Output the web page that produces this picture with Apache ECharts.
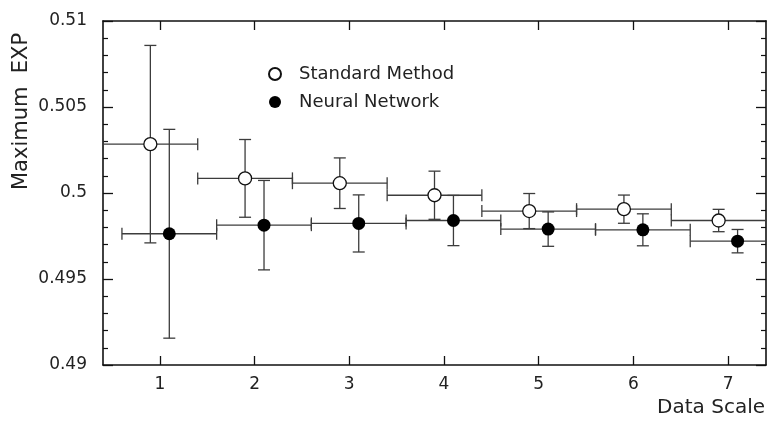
<!DOCTYPE html>
<html>
<head>
<meta charset="utf-8">
<script src="https://cdn.jsdelivr.net/npm/echarts@6/dist/echarts.min.js"></script>
<style>
  html, body { margin: 0; padding: 0; background: #fff; }
  #chart { width: 769px; height: 426px; }
</style>
</head>
<body>
<div id="chart"></div>
<script>
// Data scale points (each method is shifted slightly left/right of the integer scale)
const stdX = [0.9, 1.9, 2.9, 3.9, 4.9, 5.9, 6.9];
const stdY = [0.50284, 0.50085, 0.50057, 0.49987, 0.49895, 0.49906, 0.49840];
const stdErr = [0.00574, 0.00226, 0.00147, 0.00140, 0.00102, 0.00082, 0.00065];

const nnX = [1.1, 2.1, 3.1, 4.1, 5.1, 6.1, 7.1];
const nnY = [0.49763, 0.49813, 0.49823, 0.49840, 0.49790, 0.49786, 0.49720];
const nnErr = [0.00607, 0.00260, 0.00166, 0.00146, 0.00100, 0.00093, 0.00068];

// Half-width of each data-scale bin (horizontal error bars)
const binHalf = [0.5, 0.5, 0.5, 0.5, 0.5, 0.5, 0.5];

const xTicks = [1, 2, 3, 4, 5, 6, 7];

const FONT = '"DejaVu Sans", sans-serif';
const TEXT = '#222';
const LINE = '#3c3c3c';
const CAP = 6;

function rows(xs, ys, es) {
  return xs.map((x, i) => [x, ys[i], es[i], binHalf[i]]);
}

function renderBars(params, api) {
  const x = api.value(0), y = api.value(1), ey = api.value(2), ex = api.value(3);
  const top = api.coord([x, y + ey]);
  const bot = api.coord([x, y - ey]);
  const lft = api.coord([x - ex, y]);
  const rgt = api.coord([x + ex, y]);
  const style = { stroke: LINE, lineWidth: 1.3, fill: null };
  const seg = (x1, y1, x2, y2) => ({ type: 'line', shape: { x1, y1, x2, y2 }, style });
  return {
    type: 'group',
    children: [
      seg(top[0], top[1], bot[0], bot[1]),
      seg(top[0] - CAP, top[1], top[0] + CAP, top[1]),
      seg(bot[0] - CAP, bot[1], bot[0] + CAP, bot[1]),
      seg(lft[0], lft[1], rgt[0], rgt[1]),
      seg(lft[0], lft[1] - CAP, lft[0], lft[1] + CAP),
      seg(rgt[0], rgt[1] - CAP, rgt[0], rgt[1] + CAP)
    ]
  };
}

const chart = echarts.init(document.getElementById('chart'), null, { renderer: 'canvas' });

const frameLine = { show: true, lineStyle: { color: '#111', width: 1.6 } };
const tickStyle = { color: '#111', width: 1.3 };

chart.setOption({
  animation: false,
  backgroundColor: '#fff',
  grid: { left: 103, right: 3, top: 21, bottom: 61, containLabel: false },
  legend: {
    orient: 'vertical',
    left: 263,
    top: 60,
    itemWidth: 12,
    itemHeight: 12,
    itemGap: 10,
    data: ['Standard Method', 'Neural Network'],
    textStyle: { fontFamily: FONT, fontSize: 18, color: TEXT, padding: [0, 0, 0, 13] }
  },
  xAxis: [
    {
      type: 'value', position: 'bottom', min: 0.4, max: 7.4,
      axisLine: frameLine,
      axisTick: { show: true, inside: true, length: 9, customValues: xTicks, lineStyle: tickStyle },
      axisLabel: { show: true, customValues: xTicks, margin: 11, fontFamily: FONT, fontSize: 17, color: TEXT },
      splitLine: { show: false }
    },
    {
      type: 'value', position: 'top', min: 0.4, max: 7.4,
      axisLine: frameLine,
      axisTick: { show: true, inside: true, length: 9, customValues: xTicks, lineStyle: tickStyle },
      axisLabel: { show: false },
      splitLine: { show: false }
    }
  ],
  yAxis: [
    {
      type: 'value', position: 'left', min: 0.49, max: 0.51, interval: 0.005,
      axisLine: frameLine,
      axisTick: { show: true, inside: true, length: 10, lineStyle: tickStyle },
      minorTick: { show: true, splitNumber: 5, length: 5, lineStyle: { color: '#111', width: 1.2 } },
      axisLabel: { margin: 16, fontFamily: FONT, fontSize: 17, color: TEXT },
      splitLine: { show: false }
    },
    {
      type: 'value', position: 'right', min: 0.49, max: 0.51, interval: 0.005,
      axisLine: frameLine,
      axisTick: { show: true, inside: true, length: 10, lineStyle: tickStyle },
      minorTick: { show: true, splitNumber: 5, length: 5, lineStyle: { color: '#111', width: 1.2 } },
      axisLabel: { show: false },
      splitLine: { show: false }
    }
  ],
  graphic: [
    {
      type: 'text', right: 4, top: 398,
      style: { text: 'Data Scale', fontFamily: FONT, fontSize: 20, fill: TEXT }
    },
    {
      type: 'text', x: 11, y: 190, rotation: Math.PI / 2,
      style: { text: 'Maximum  EXP', fontFamily: FONT, fontSize: 21, fill: TEXT }
    }
  ],
  series: [
    {
      name: 'std-bars', type: 'custom', clip: true, z: 2,
      renderItem: renderBars,
      encode: { x: 0, y: 1 },
      data: rows(stdX, stdY, stdErr)
    },
    {
      name: 'nn-bars', type: 'custom', clip: true, z: 2,
      renderItem: renderBars,
      encode: { x: 0, y: 1 },
      data: rows(nnX, nnY, nnErr)
    },
    {
      name: 'Standard Method', type: 'scatter', z: 3,
      symbol: 'circle', symbolSize: 13,
      itemStyle: { color: '#fff', borderColor: '#111', borderWidth: 1.3, opacity: 1 },
      data: stdX.map((x, i) => [x, stdY[i]])
    },
    {
      name: 'Neural Network', type: 'scatter', z: 3,
      symbol: 'circle', symbolSize: 13,
      itemStyle: { color: '#000', borderColor: '#000', borderWidth: 0, opacity: 1 },
      data: nnX.map((x, i) => [x, nnY[i]])
    }
  ]
});
</script>
</body>
</html>
